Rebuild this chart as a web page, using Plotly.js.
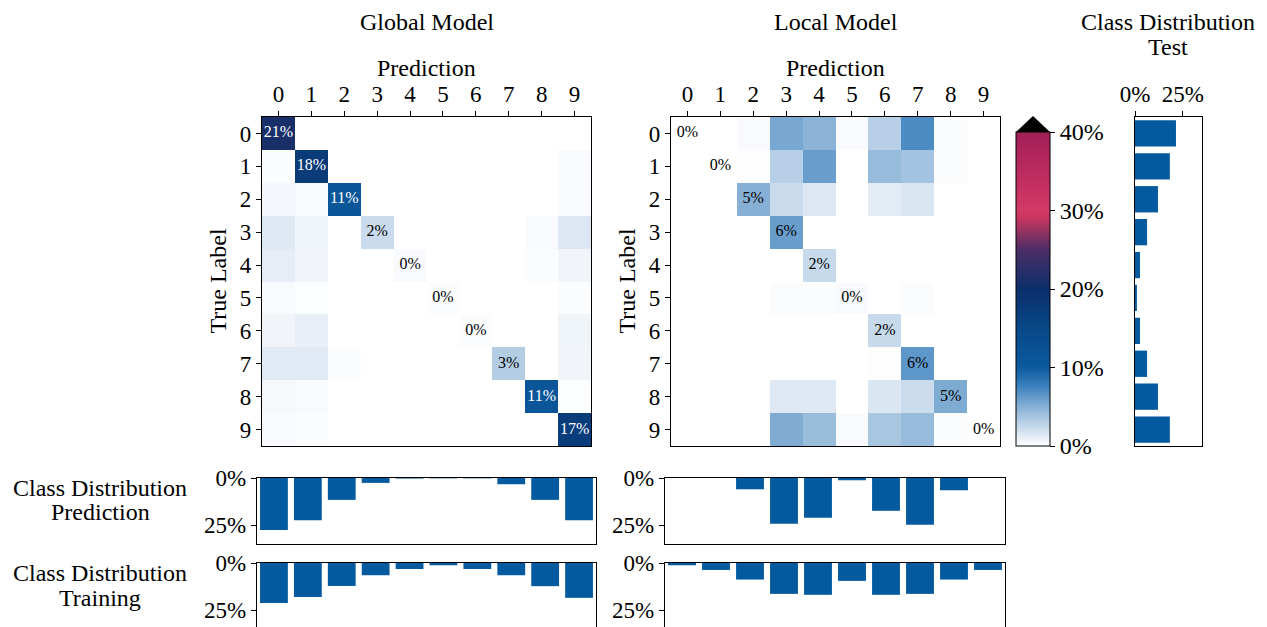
<!DOCTYPE html>
<html><head><meta charset="utf-8">
<script src="https://cdn.plot.ly/plotly-3.0.1.min.js"></script>
<style>html,body{margin:0;padding:0;background:#fff}</style>
</head><body>
<div id="chart" style="width:1267px;height:627px"></div>
<script>
// ---------------- data ----------------
const classes = [0,1,2,3,4,5,6,7,8,9];
const globalMatrix = [
  [21.0, 0,    0,   0,   0,   0,   0,   0,   0,    0   ],
  [0.2,  17.9, 0,   0,   0,   0,   0,   0,   0,    0.3 ],
  [0.5,  0.3,  11.1,0,   0,   0,   0,   0,   0,    0.3 ],
  [1.4,  0.7,  0,   2.3, 0,   0,   0,   0,   0.3,  1.5 ],
  [1.1,  0.6,  0,   0,   0.3, 0,   0,   0,   0.2,  0.6 ],
  [0.3,  0.15, 0,   0,   0,   0.2, 0,   0,   0,    0.2 ],
  [0.6,  1.0,  0,   0,   0,   0,   0.2, 0,   0,    0.7 ],
  [1.3,  1.3,  0.2, 0,   0,   0,   0,   3.2, 0,    0.6 ],
  [0.4,  0.3,  0,   0,   0,   0,   0,   0,   11.1, 0.15],
  [0.3,  0.2,  0,   0,   0,   0,   0,   0,   0,    17.3]
];
const localMatrix = [
  [0, 0, 0.3, 5.5, 4.8, 0.3, 3.0, 7.0, 0.2, 0],
  [0, 0, 0.1, 3.0, 6.0, 0,   4.3, 3.8, 0.2, 0],
  [0, 0, 5.0, 2.3, 1.5, 0,   1.2, 1.6, 0,   0],
  [0, 0, 0,   6.0, 0,   0,   0,   0,   0,   0],
  [0, 0, 0,   0,   2.4, 0,   0,   0,   0,   0],
  [0, 0, 0,   0.2, 0.2, 0.3, 0,   0.2, 0,   0],
  [0, 0, 0,   0,   0,   0,   2.4, 0,   0,   0],
  [0, 0, 0,   0,   0,   0,   0.1, 6.4, 0,   0],
  [0, 0, 0,   1.4, 1.4, 0,   1.6, 2.2, 5.3, 0],
  [0, 0, 0,   5.2, 4.2, 0.3, 3.6, 4.3, 0.2, 0]
];
const testDist    = [21.4, 18.2, 12.0, 6.3, 2.6, 1.0, 2.6, 6.3, 12.0, 18.2];
const globalPred  = [27.6, 22.4, 11.6, 2.6, 0.3, 0.2, 0.2, 3.3, 11.6, 22.4];
const globalTrain = [21.3, 18.1, 12.2, 6.5, 3.2, 1.2, 3.2, 6.5, 12.3, 18.5];
const localPred   = [0, 0, 6.0, 24.3, 21.1, 1.2, 17.4, 24.8, 6.5, 0];
const localTrain  = [1.2, 3.7, 8.8, 16.4, 16.9, 9.5, 16.9, 16.4, 8.8, 3.7];
const colorbarTicks = [0, 10, 20, 30, 40];
const barTicks = [0, 25];

// ---------------- helpers ----------------
const W = 1267, H = 627;
const px = v => v / W;
const py = v => 1 - v / H;
const pct = arr => arr.map(v => v + '%');
const FONT = 'Liberation Serif, Times New Roman, serif';
const BAR = '#045a9f';
const colorscale = [
  [0.0,   '#ffffff'],
  [0.025, '#e8eff7'],
  [0.0625,'#c4d8eb'],
  [0.125, '#86b0d5'],
  [0.1875,'#3e83bf'],
  [0.25,  '#0a5a9e'],
  [0.375, '#084888'],
  [0.5,   '#0b2f6b'],
  [0.625, '#4b2d65'],
  [0.725, '#c8365f'],
  [0.75,  '#d43966'],
  [0.875, '#bb2b5f'],
  [1.0,   '#a21f58']
];
const diag = m => classes.map(i => m[i][i]);
const diagText = m => diag(m).map(v => Math.round(v) + '%');
const diagColor = m => diag(m).map(v => v > 9 ? '#ffffff' : '#000000');

// geometry
const HM_TOP = 117, HM_BOT = 446;
const G_L = 262, G_R = 591, L_L = 671, L_R = 1000;
const CB_L = 1016, CB_T = 132, CB_W = 34;
const T_L = 1135, T_R = 1202;
const BG_L = 257, BG_R = 596, BL_L = 665, BL_R = 1005;
const P_T = 478, P_B = 544, TR_T = 563;

const traces = [
  {type:'heatmap', z: globalMatrix, x: classes, y: classes, xaxis:'x', yaxis:'y',
   zmin:0, zmax:40, colorscale: colorscale, hoverinfo:'skip',
   colorbar:{x:px(CB_L), xanchor:'left', y:py(HM_BOT), yanchor:'bottom',
     len: HM_BOT - CB_T, lenmode:'pixels', thickness: CB_W, thicknessmode:'pixels',
     xpad:0, ypad:0, outlinewidth:1, outlinecolor:'#000',
     tickmode:'array', tickvals: colorbarTicks, ticktext: pct(colorbarTicks),
     ticks:'outside', ticklen:5, tickcolor:'#000',
     tickfont:{family:FONT, size:24, color:'#000'}}},
  {type:'heatmap', z: localMatrix, x: classes, y: classes, xaxis:'x2', yaxis:'y2',
   zmin:0, zmax:40, colorscale: colorscale, showscale:false, hoverinfo:'skip'},
  {type:'scatter', mode:'text', x: classes, y: classes, text: diagText(globalMatrix),
   textfont:{family:FONT, size:16, color: diagColor(globalMatrix)}, xaxis:'x', yaxis:'y', hoverinfo:'skip'},
  {type:'scatter', mode:'text', x: classes, y: classes, text: diagText(localMatrix),
   textfont:{family:FONT, size:16, color: diagColor(localMatrix)}, xaxis:'x2', yaxis:'y2', hoverinfo:'skip'},
  {type:'bar', orientation:'h', x: testDist, y: classes, width:0.8, marker:{color:BAR}, xaxis:'x3', yaxis:'y3', hoverinfo:'skip'},
  {type:'bar', x: classes, y: globalPred, width:0.82, marker:{color:BAR}, xaxis:'x4', yaxis:'y4', hoverinfo:'skip'},
  {type:'bar', x: classes, y: localPred, width:0.82, marker:{color:BAR}, xaxis:'x5', yaxis:'y5', hoverinfo:'skip'},
  {type:'bar', x: classes, y: globalTrain, width:0.82, marker:{color:BAR}, xaxis:'x6', yaxis:'y6', hoverinfo:'skip'},
  {type:'bar', x: classes, y: localTrain, width:0.82, marker:{color:BAR}, xaxis:'x7', yaxis:'y7', hoverinfo:'skip'}
];

const tickFont = {family:FONT, size:23, color:'#000'};
const frame = {showline:true, linecolor:'#000', linewidth:1.2, mirror:true, showgrid:false, zeroline:false, fixedrange:true};
const hmX = (dom, anchor) => Object.assign({}, frame, {domain:dom, anchor:anchor, side:'top', range:[-0.5,9.5],
  tickmode:'array', tickvals:classes, ticks:'outside', ticklen:5, tickcolor:'#000', tickfont:tickFont});
const hmY = (anchor) => Object.assign({}, frame, {domain:[py(HM_BOT), py(HM_TOP)], anchor:anchor, range:[9.5,-0.5],
  tickmode:'array', tickvals:classes, ticks:'outside', ticklen:5, tickcolor:'#000', tickfont:tickFont});
const barX = (dom, anchor, mirror) => Object.assign({}, frame, {domain:dom, anchor:anchor, side:'top', range:[-0.5,9.5],
  showticklabels:false, ticks:'', mirror:mirror});
const barY = (dom, anchor, rng) => Object.assign({}, frame, {domain:dom, anchor:anchor, range:rng,
  tickmode:'array', tickvals:barTicks, ticktext:pct(barTicks), ticks:'outside', ticklen:5, tickcolor:'#000', tickfont:tickFont});

const ann = (text, x, y, extra) => Object.assign({text:text, x:px(x), y:py(y), xref:'paper', yref:'paper',
  showarrow:false, xanchor:'center', yanchor:'middle', font:{family:FONT, size:24, color:'#000'}}, extra || {});

const layout = {
  width:W, height:H, margin:{l:0,r:0,t:0,b:0}, paper_bgcolor:'#fff', plot_bgcolor:'#fff',
  showlegend:false, font:{family:FONT, color:'#000'},
  xaxis: hmX([px(G_L), px(G_R)], 'y'),
  yaxis: hmY('x'),
  xaxis2: hmX([px(L_L), px(L_R)], 'y2'),
  yaxis2: hmY('x2'),
  xaxis3: Object.assign({}, frame, {domain:[px(T_L), px(T_R)], anchor:'y3', side:'top', range:[0,35],
     tickmode:'array', tickvals:barTicks, ticktext:pct(barTicks), ticks:'outside', ticklen:5, tickcolor:'#000', tickfont:tickFont}),
  yaxis3: Object.assign({}, frame, {domain:[py(HM_BOT), py(HM_TOP)], anchor:'x3', range:[9.5,-0.5], showticklabels:false, ticks:''}),
  xaxis4: barX([px(BG_L), px(BG_R)], 'y4', true),
  yaxis4: barY([py(P_B), py(P_T)], 'x4', [35, 0]),
  xaxis5: barX([px(BL_L), px(BL_R)], 'y5', true),
  yaxis5: barY([py(P_B), py(P_T)], 'x5', [35, 0]),
  xaxis6: barX([px(BG_L), px(BG_R)], 'y6', false),
  yaxis6: barY([0, py(TR_T)], 'x6', [34, 0]),
  xaxis7: barX([px(BL_L), px(BL_R)], 'y7', false),
  yaxis7: barY([0, py(TR_T)], 'x7', [34, 0]),
  shapes: [
    {type:'path', xref:'paper', yref:'paper', fillcolor:'#000', line:{width:0},
     path:'M ' + px(CB_L) + ' ' + py(CB_T) + ' L ' + px(CB_L + CB_W) + ' ' + py(CB_T) +
          ' L ' + px(CB_L + CB_W/2) + ' ' + py(CB_T - 16) + ' Z'}
  ],
  annotations: [
    ann('Global Model', (G_L+G_R)/2, 22),
    ann('Local Model', (L_L+L_R)/2, 22),
    ann('Class Distribution', 1168, 22),
    ann('Test', 1168, 47),
    ann('Prediction', (G_L+G_R)/2, 68),
    ann('Prediction', (L_L+L_R)/2, 68),
    ann('True Label', 217, (HM_TOP+HM_BOT)/2, {textangle:-90}),
    ann('True Label', 626, (HM_TOP+HM_BOT)/2, {textangle:-90}),
    ann('Class Distribution', 100, 488),
    ann('Prediction', 100, 512),
    ann('Class Distribution', 100, 573),
    ann('Training', 100, 598)
  ]
};

Plotly.newPlot('chart', traces, layout, {staticPlot:true, displayModeBar:false});
</script>
</body></html>
